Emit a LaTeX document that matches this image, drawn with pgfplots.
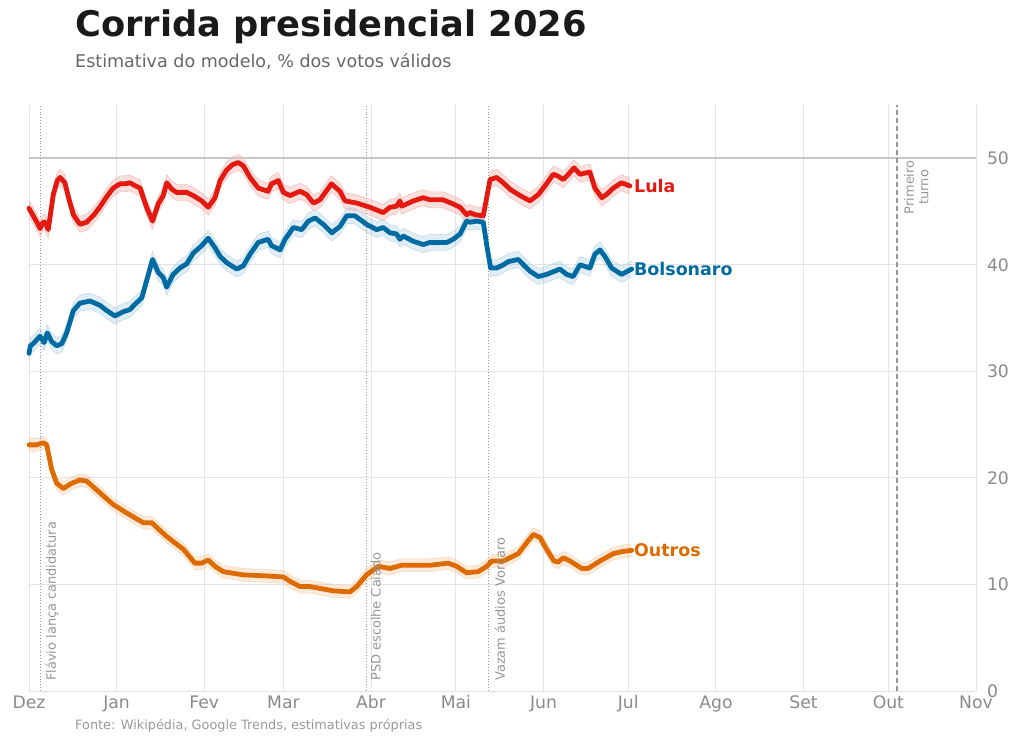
\documentclass[border=0pt]{standalone}
\usepackage{fontspec}
\setmainfont{DejaVu Sans}
\usepackage{pgfplots}
\usepackage{pgfplotstable}
\pgfplotsset{compat=1.18}
\usepgfplotslibrary{fillbetween}
\definecolor{lulac}{RGB}{228,26,17}
\definecolor{bolsoc}{RGB}{0,107,162}
\definecolor{outc}{RGB}{222,107,0}
\definecolor{gridc}{RGB}{228,228,228}
\definecolor{tickc}{RGB}{138,138,138}
\definecolor{evc}{RGB}{150,150,150}
\definecolor{titc}{RGB}{26,26,26}
\definecolor{subc}{RGB}{102,102,102}

\pgfplotstableread{
d v
0 45.3
1.5 44.6
3 43.9
3.9 43.4
5 44.0
5.7 44.0
6.8 43.3
8.6 46.6
10 47.9
11 48.2
12.7 47.7
14 46.3
15.7 44.7
18 43.8
20.4 44.0
23 44.7
25 45.4
27.5 46.4
29.8 47.2
32.2 47.6
34 47.6
35.7 47.7
37 47.5
39.3 47.2
41.6 45.4
43.7 44.1
45.7 45.7
47.5 46.5
48.7 47.7
50.5 47.1
52.2 46.8
55.8 46.8
58.1 46.5
61.1 46.0
63.4 45.4
65.8 46.3
67.6 47.9
69.9 48.9
72 49.4
74 49.6
75.8 49.3
78.2 48.2
81.1 47.2
84.6 46.9
85.8 47.6
88.2 47.9
90 46.8
92.3 46.5
95.9 46.9
98.2 46.6
100.6 45.8
102.9 46.1
107 47.6
110 46.9
111.8 46.0
115.9 45.8
120.6 45.4
125.3 44.9
127.7 45.4
130 45.5
131.2 46.0
131.8 45.5
136 46.0
139.5 46.3
141.8 46.1
146.5 46.1
150.1 45.7
152.5 45.4
154.8 44.7
156 44.9
157.8 44.7
160.7 44.6
161.9 46.3
163.1 48.0
165.4 48.2
167.8 47.7
170.1 47.1
173.7 46.5
177.2 46.0
180.2 46.6
182.5 47.4
185.5 48.5
187.3 48.3
189 48.0
190.8 48.5
192.8 49.1
194.9 48.5
198.4 48.7
200.2 47.2
202.6 46.3
204.3 46.6
206.7 47.2
209.6 47.7
212.6 47.4
}\lula

\pgfplotstableread{
d v
0 31.7
0.5 32.4
1.5 32.6
3.9 33.3
5.3 32.7
6.5 33.6
8 32.8
9.8 32.4
11.6 32.6
13.3 33.6
15.7 35.7
18 36.4
21.6 36.6
25.1 36.2
27.5 35.7
30.4 35.2
33.4 35.6
35.7 35.8
37.5 36.3
39.9 36.9
41.6 38.5
43.7 40.5
45.7 39.3
47.5 38.8
48.7 37.9
51 39.1
53.4 39.7
55.8 40.1
58.1 41.1
61.1 41.8
63.4 42.5
65.8 41.6
67.6 40.8
69.9 40.2
73.5 39.6
75.8 39.9
78.2 41.0
81.1 42.1
84.6 42.4
85.8 41.8
88.8 41.4
90.6 42.4
93.5 43.5
96.5 43.3
98.8 44.1
101.2 44.4
104.1 43.8
107.1 43.0
110 43.6
112.4 44.6
115.3 44.6
119.4 43.8
123 43.3
125.3 43.5
127.7 43.0
130 42.9
131.2 42.4
132.4 42.7
136 42.2
139.5 41.9
141.8 42.1
147.8 42.1
150.1 42.4
152.5 42.9
154.8 44.1
156 44.0
158.4 44.1
160.7 44.0
161.9 41.9
163.3 39.7
165.4 39.7
167.8 40.0
169.5 40.3
173.1 40.5
174.9 40.0
177.2 39.4
180.2 38.9
183.1 39.1
187.8 39.6
190.2 39.1
192.5 38.9
194.9 40.0
198.4 39.7
200.2 41.0
202 41.4
203.7 40.8
206.1 39.7
209.6 39.1
213.2 39.6
}\bolso

\pgfplotstableread{
d v
0 23.1
2.7 23.1
5 23.3
6.3 23.1
8 20.8
9.8 19.5
12.1 19.0
15.1 19.5
18 19.8
20.4 19.7
25.1 18.6
29.8 17.5
34.6 16.7
40.4 15.8
43.4 15.8
48.7 14.5
54.6 13.3
58.7 12.0
61.1 12.0
63.4 12.3
65.8 11.7
68.7 11.2
75.8 10.9
84.1 10.8
90 10.7
92.3 10.3
95.9 9.8
99.4 9.8
107.6 9.4
113.5 9.3
115.9 9.8
119.4 10.9
123.6 11.7
127.7 11.5
131.8 11.8
141.8 11.8
148.3 12.0
151.3 11.7
154.8 11.1
158.9 11.2
161.9 11.7
163.7 12.2
167.8 12.2
173.1 12.9
176 13.9
178.4 14.7
180.8 14.4
183.1 13.3
185.7 12.2
187.2 12.1
189 12.5
191.4 12.2
195.5 11.5
197.8 11.5
202 12.2
206.7 12.9
210.2 13.1
213.2 13.2
}\outros

\begin{document}
\begin{tikzpicture}
\begin{axis}[
  at={(0,0)}, anchor=south west,
  scale only axis, width=947bp, height=586bp,
  xmin=0, xmax=335, ymin=0, ymax=55,
  axis line style={draw=none},
  xtick={0,31,62,90,121,151,182,212,243,274,304,335},
  xticklabels={Dez,Jan,Fev,Mar,Abr,Mai,Jun,Jul,Ago,Set,Out,Nov},
  ytick={0,10,20,30,40,50},
  yticklabel pos=right,
  major tick length=0pt,
  grid=major,
  grid style={color=gridc, line width=0.9bp},
  tick label style={color=tickc, font=\fontsize{17.3}{20}\selectfont},
  xticklabel style={yshift=-1bp},
  yticklabel style={xshift=7.5bp},
  /pgf/number format/assume math mode=true,
  clip=false,
]
% 50% line
\addplot[color=black!22, line width=1.6bp, forget plot] coordinates {(0,50) (335,50)};
% event lines
\addplot[color=evc, dotted, line width=0.9bp, forget plot] coordinates {(4,0) (4,55)};
\addplot[color=evc, dotted, line width=0.9bp, forget plot] coordinates {(119.3,0) (119.3,55)};
\addplot[color=evc, dotted, line width=0.9bp, forget plot] coordinates {(162.7,0) (162.7,55)};
\addplot[color=black!42, dash pattern=on 5bp off 3bp, line width=1.3bp, forget plot] coordinates {(307,0) (307,55)};

% bands
\addplot[name path=lA, draw=lulac!28, line width=0.6bp, forget plot] table[x=d, y expr=\thisrow{v}+0.75] {\lula};
\addplot[name path=lB, draw=lulac!28, line width=0.6bp, forget plot] table[x=d, y expr=\thisrow{v}-0.75] {\lula};
\addplot[fill=lulac, fill opacity=0.14, draw=none, forget plot] fill between[of=lA and lB];
\addplot[name path=bA, draw=bolsoc!24, line width=0.6bp, forget plot] table[x=d, y expr=\thisrow{v}+0.75] {\bolso};
\addplot[name path=bB, draw=bolsoc!24, line width=0.6bp, forget plot] table[x=d, y expr=\thisrow{v}-0.75] {\bolso};
\addplot[fill=bolsoc, fill opacity=0.12, draw=none, forget plot] fill between[of=bA and bB];
\addplot[name path=oA, draw=outc!24, line width=0.6bp, forget plot] table[x=d, y expr=\thisrow{v}+0.6] {\outros};
\addplot[name path=oB, draw=outc!24, line width=0.6bp, forget plot] table[x=d, y expr=\thisrow{v}-0.6] {\outros};
\addplot[fill=outc, fill opacity=0.14, draw=none, forget plot] fill between[of=oA and oB];

% lines
\addplot[color=lulac, line width=4.8bp, line join=round, line cap=round] table[x=d, y=v] {\lula};
\addplot[color=bolsoc, line width=4.8bp, line join=round, line cap=round] table[x=d, y=v] {\bolso};
\addplot[color=outc, line width=4.8bp, line join=round, line cap=round] table[x=d, y=v] {\outros};

% end labels
\node[anchor=west, inner sep=0pt, text=lulac, font=\bfseries\fontsize{17.5}{20}\selectfont] at (axis cs:214.0,47.4) {Lula};
\node[anchor=west, inner sep=0pt, text=bolsoc, font=\bfseries\fontsize{17.5}{20}\selectfont] at (axis cs:214.0,39.6) {Bolsonaro};
\node[anchor=west, inner sep=0pt, text=outc, font=\bfseries\fontsize{17.5}{20}\selectfont] at (axis cs:214.0,13.2) {Outros};

% event labels (rotated frame: local -y = screen right)
\node[rotate=90, anchor=base west, inner sep=0pt, text=evc, font=\fontsize{13}{15}\selectfont, yshift=-15.5bp] at (axis cs:4,0.94) {Flávio lança candidatura};
\node[rotate=90, anchor=base west, inner sep=0pt, text=evc, font=\fontsize{13}{15}\selectfont, yshift=-14.5bp] at (axis cs:119.3,0.94) {PSD escolhe Caiado};
\node[rotate=90, anchor=base west, inner sep=0pt, text=evc, font=\fontsize{13}{15}\selectfont, yshift=-16bp] at (axis cs:162.7,0.94) {Vazam áudios Vorcaro};
\node[rotate=90, anchor=east, align=center, inner sep=0pt, text=evc, font=\fontsize{13}{14.5}\selectfont, yshift=-19.5bp, xshift=-2bp] at (axis cs:307,50) {Primeiro\\turno};
\end{axis}
% titles
\node[anchor=base west, inner sep=0pt, text=titc, font=\bfseries\fontsize{35.4}{42}\selectfont] at (46bp,654bp) {Corrida presidencial 2026};
\node[anchor=base west, inner sep=0pt, text=subc, font=\fontsize{17.6}{21}\selectfont] at (46bp,623bp) {Estimativa do modelo, \% dos votos válidos};
\node[anchor=base west, inner sep=0pt, text=black!40, font=\fontsize{12.9}{15}\selectfont] at (46bp,-38bp) {Fonte: Wikipédia, Google Trends, estimativas próprias};
\pgfresetboundingbox
\useasboundingbox (-29bp,-52bp) rectangle (994bp,691bp);
\end{tikzpicture}
\end{document}
